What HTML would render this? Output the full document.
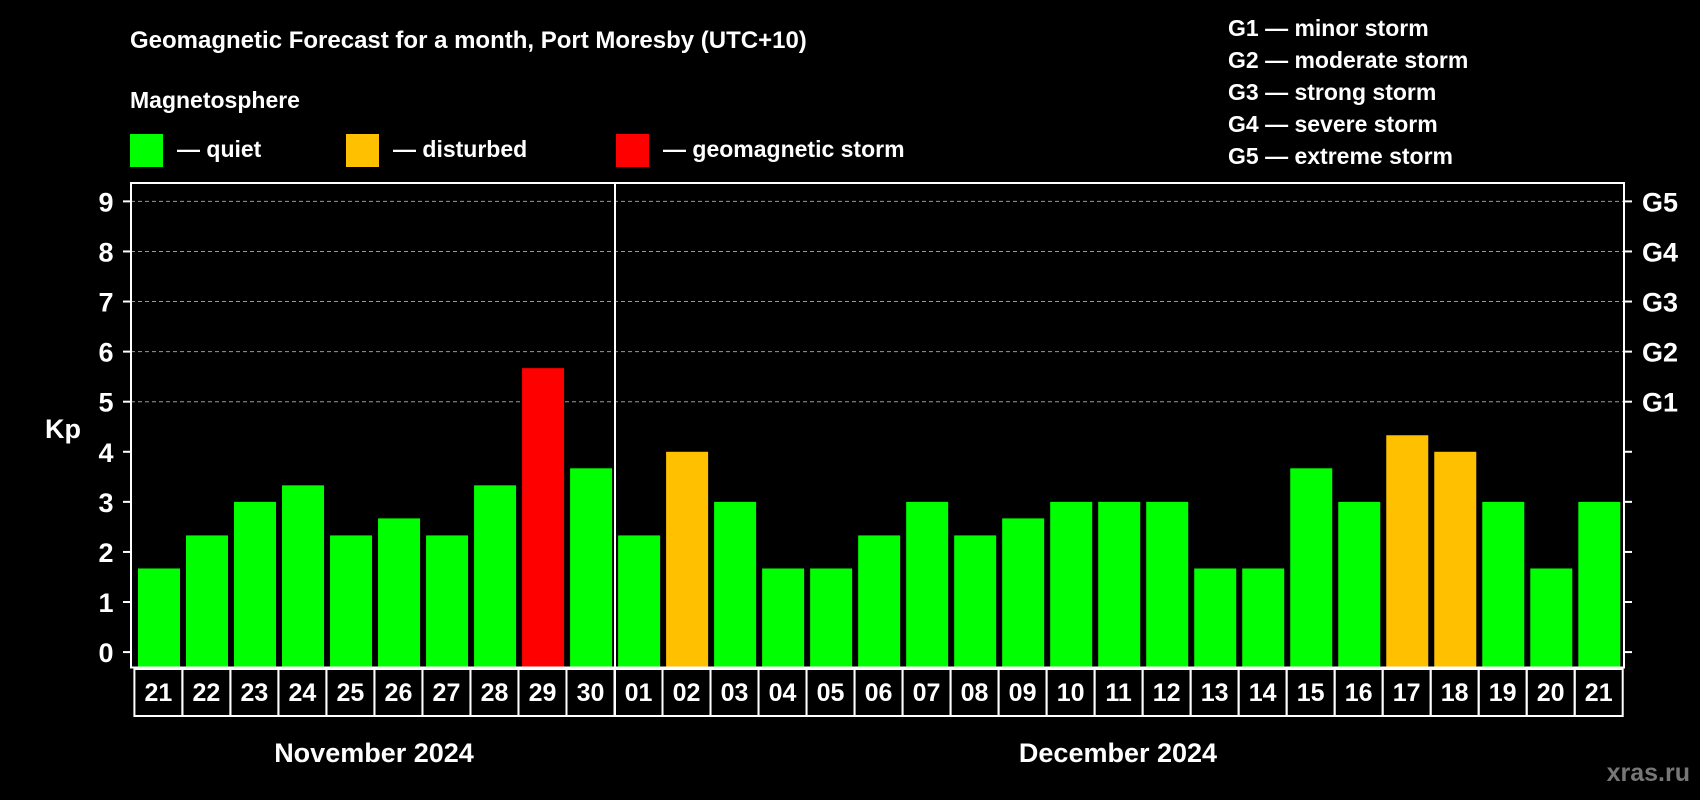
<!DOCTYPE html>
<html><head><meta charset="utf-8"><style>
html,body{margin:0;padding:0;background:#000;}
svg{display:block;font-family:"Liberation Sans",Arial,sans-serif;font-weight:bold;}
</style></head><body>
<svg id="chart" width="1700" height="800" viewBox="0 0 1700 800">
<rect x="0" y="0" width="1700" height="800" fill="#000"/>
<text x="130" y="48" fill="#fff" font-size="24">Geomagnetic Forecast for a month, Port Moresby (UTC+10)</text>
<text x="130" y="108" fill="#fff" font-size="23">Magnetosphere</text>
<g><rect x="130" y="134" width="33" height="33" fill="#00ff00"/><text x="177" y="157" fill="#fff" font-size="23">— quiet</text></g>
<g><rect x="346" y="134" width="33" height="33" fill="#ffc000"/><text x="393" y="157" fill="#fff" font-size="23">— disturbed</text></g>
<g><rect x="616" y="134" width="33" height="33" fill="#ff0000"/><text x="663" y="157" fill="#fff" font-size="23">— geomagnetic storm</text></g>
<g fill="#fff" font-size="23">
<text x="1228" y="36">G1 — minor storm</text>
<text x="1228" y="68">G2 — moderate storm</text>
<text x="1228" y="100">G3 — strong storm</text>
<text x="1228" y="132">G4 — severe storm</text>
<text x="1228" y="164">G5 — extreme storm</text>
</g>
<text x="63" y="438" fill="#fff" font-size="27" text-anchor="middle">Kp</text>
<g id="grid"></g>
<g id="bars"></g>
<rect x="131" y="183" width="1493" height="484.5" fill="none" stroke="#fff" stroke-width="2"/>
<line x1="615" y1="183" x2="615" y2="716" stroke="#fff" stroke-width="2"/>
<g id="axes"></g>
<g id="cells"></g>
<text x="374" y="762" fill="#fff" font-size="27" text-anchor="middle">November 2024</text>
<text x="1118" y="762" fill="#fff" font-size="27" text-anchor="middle">December 2024</text>
<text x="1690" y="781" fill="#777" font-size="25" text-anchor="end">xras.ru</text>
</svg>
<script>
const days = ["21","22","23","24","25","26","27","28","29","30","01","02","03","04","05","06","07","08","09","10","11","12","13","14","15","16","17","18","19","20","21"];
const kpValues = [1.67,2.33,3,3.33,2.33,2.67,2.33,3.33,5.67,3.67,2.33,4,3,1.67,1.67,2.33,3,2.33,2.67,3,3,3,1.67,1.67,3.67,3,4.33,4,3,1.67,3];
const yTicks = [0,1,2,3,4,5,6,7,8,9];
const gLabels = ["G1","G2","G3","G4","G5"];
const NS="http://www.w3.org/2000/svg";
const y0=652.1, unit=50.08, x0=134.4, cw=48.01, plotBottom=667.5;
function y(v){return y0-v*unit;}
function x(i){return x0+i*cw;}
function colorFor(v){return v>=5?"#ff0000":(v>=4?"#ffc000":"#00ff00");}
function mk(tag,attrs,parent){const e=document.createElementNS(NS,tag);for(const k in attrs)e.setAttribute(k,attrs[k]);parent.appendChild(e);return e;}
const grid=document.getElementById("grid"),axes=document.getElementById("axes"),bars=document.getElementById("bars"),cells=document.getElementById("cells");
yTicks.forEach(t=>{
  const yy=y(t);
  if(t>=5){const g=mk("line",{x1:131,x2:1624,y1:yy,y2:yy,stroke:"#999","stroke-width":1,"stroke-dasharray":"4,3"},grid);
    
    }
  const l=mk("line",{x1:123,x2:131,y1:yy,y2:yy,stroke:"#fff","stroke-width":2},axes);
  
  
  const r=mk("line",{x1:1624,x2:1632,y1:yy,y2:yy,stroke:"#fff","stroke-width":2},axes);
  
  
  const tx=mk("text",{x:106,y:yy+10,fill:"#fff","font-size":27,"text-anchor":"middle"},axes);
  tx.textContent=t;
  
  
});
gLabels.forEach((g,i)=>{
  const tx=mk("text",{x:1642,y:y(5+i)+10,fill:"#fff","font-size":27},axes);
  tx.textContent=g;
  
  
});
kpValues.forEach((v,i)=>{
  const b=mk("rect",{x:x(i)+3.6,y:y(v),width:42,height:plotBottom-y(v),fill:colorFor(v)},bars);
  
  
});
days.forEach((d,i)=>{
  const c=mk("rect",{x:x(i),y:669,width:cw,height:47,fill:"none",stroke:"#fff","stroke-width":2},cells);
  
  
  const t=mk("text",{x:x(i)+cw/2,y:701,fill:"#fff","font-size":25,"text-anchor":"middle"},cells);
  t.textContent=d;
  
  
});
</script>
</body></html>
